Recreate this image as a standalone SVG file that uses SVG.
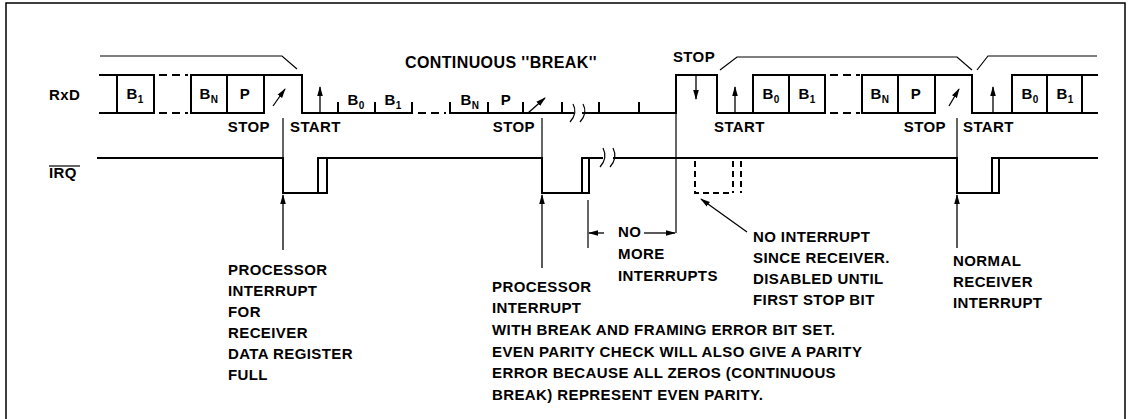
<svg xmlns="http://www.w3.org/2000/svg" width="1128" height="419" viewBox="0 0 1128 419">
<style>
.sig{fill:none;stroke:#000;stroke-width:2;stroke-linejoin:miter;stroke-linecap:square}
.thin{fill:none;stroke:#000;stroke-width:1.2}
.dash{fill:none;stroke:#000;stroke-width:2;stroke-dasharray:8,5}
.arr{fill:none;stroke:#000;stroke-width:1.3;marker-end:url(#ah)}
text{font-family:"Liberation Sans",Arial,Helvetica,sans-serif;font-weight:bold;font-size:15px;letter-spacing:0.4px;fill:#000}
.mid{text-anchor:middle}
.end{text-anchor:end}
.sub{font-size:10px}
</style>
<defs>
<marker id="ah" viewBox="0 0 10 10" refX="9" refY="5" markerWidth="10" markerHeight="10" markerUnits="userSpaceOnUse" orient="auto"><path d="M0,2.2 L10,5 L0,7.8 z" fill="#000"/></marker>
</defs>
<path id="frame" d="M6,419 V3 H1125 V419" fill="none" stroke="#000" stroke-width="1.5"/>

<g id="rxd">
<text x="49" y="100">RxD</text>
<path class="thin" d="M100,56 H282 L297,69 M720,70 L737,57 H957 L972,70 M977,70 L988,56 H1097"/>
<path class="sig" d="M100,75 H154 M100,113 H154 M117,75 V113 M154,75 V113"/>
<path class="dash" d="M159,75 H188 M159,113 H188"/>
<path class="sig" d="M191,75 H302 V113 H412 M191,113 H264 M191,75 V113 M227,75 V113 M264,75 V113"/>
<path class="dash" d="M418,113 H446"/>
<path class="sig" d="M450,113 H573 M583,113 H676 V75 H717 V113 H825 M753,75 H825 M753,75 V113 M789,75 V113 M825,75 V113"/>
<path class="sig" d="M338,113 V103 M375,113 V103 M412,113 V103 M450,113 V103 M488,113 V103 M523,113 V103 M562,113 V103 M599,113 V103 M639,113 V103"/>
<path class="thin" d="M570,122 Q578,113 573,104 M580,122 Q588,113 583,104"/>
<path class="dash" d="M830,75 H860 M830,113 H860"/>
<path class="sig" d="M862,75 H972 V113 H1097 M862,113 H935 M862,75 V113 M898,75 V113 M935,75 V113 M1012,75 H1097 M1012,75 V113 M1047,75 V113 M1082,75 V113"/>
<text class="mid" x="135" y="99">B<tspan class="sub" dy="4">1</tspan></text>
<text class="mid" x="209" y="99">B<tspan class="sub" dy="4">N</tspan></text>
<text class="mid" x="245" y="99">P</text>
<text class="mid" x="356" y="105">B<tspan class="sub" dy="4">0</tspan></text>
<text class="mid" x="393" y="105">B<tspan class="sub" dy="4">1</tspan></text>
<text class="mid" x="470" y="105">B<tspan class="sub" dy="4">N</tspan></text>
<text class="mid" x="506" y="105">P</text>
<text class="mid" x="771" y="99">B<tspan class="sub" dy="4">0</tspan></text>
<text class="mid" x="807" y="99">B<tspan class="sub" dy="4">1</tspan></text>
<text class="mid" x="880" y="99">B<tspan class="sub" dy="4">N</tspan></text>
<text class="mid" x="916" y="99">P</text>
<text class="mid" x="1030" y="99">B<tspan class="sub" dy="4">0</tspan></text>
<text class="mid" x="1065" y="99">B<tspan class="sub" dy="4">1</tspan></text>
<text class="mid" x="501" y="68" style="font-size:16px">CONTINUOUS ''BREAK''</text>
<text class="mid" x="694" y="62">STOP</text>
<text class="end" x="270" y="132">STOP</text>
<text class="end" x="535" y="132">STOP</text>
<text class="end" x="946" y="132">STOP</text>
<text x="290" y="132">START</text>
<text x="714" y="132">START</text>
<text x="963" y="132">START</text>
</g>

<g id="irq">
<text x="49" y="178">IRQ</text>
<path class="thin" d="M49,166 H80"/>
<path class="sig" d="M98,158 H283 V193 H327 V158 M318,158 V193 M318,158 H542 V193 H589 V158 M582,158 V193 M582,158 H602 M614,158 H957 V193 H999 V158 M992,193 V158 H1097"/>
<path class="thin" d="M600,167 Q608,158 603,148 M610,167 Q618,158 613,148"/>
<path class="dash" style="stroke-dasharray:6,4" d="M695,161 V193 H733 M733,161 V193 M741,161 V193"/>
</g>

<g id="connectors">
<path class="thin" d="M283,118 V158 M542,118 V158 M957,118 V158 M676,113 V233 M588,200 V248"/>
<path class="arr" d="M273,106 L285,89"/>
<path class="arr" d="M528,113 L545,98"/>
<path class="arr" d="M949,106 L959,89"/>
<path class="arr" d="M320,113 V87"/>
<path class="arr" d="M735,113 V87"/>
<path class="arr" d="M993,113 V87"/>
<path class="arr" d="M696,75 V99"/>
<path class="arr" d="M283,250 V195"/>
<path class="arr" d="M542,268 V195"/>
<path class="arr" d="M957,248 V195"/>
<path class="arr" d="M604,233 H589"/>
<path class="arr" d="M644,233 H675"/>
<path class="arr" d="M747,232 L701,199"/>
</g>

<g id="note-full">
<text x="228" y="275">PROCESSOR</text>
<text x="228" y="296">INTERRUPT</text>
<text x="228" y="317">FOR</text>
<text x="228" y="338">RECEIVER</text>
<text x="228" y="359">DATA REGISTER</text>
<text x="228" y="380">FULL</text>
</g>
<g id="note-break">
<text x="492" y="292">PROCESSOR</text>
<text x="492" y="313">INTERRUPT</text>
<text x="492" y="335">WITH BREAK AND FRAMING ERROR BIT SET.</text>
<text x="492" y="357">EVEN PARITY CHECK WILL ALSO GIVE A PARITY</text>
<text x="492" y="378">ERROR BECAUSE ALL ZEROS (CONTINUOUS</text>
<text x="492" y="400">BREAK) REPRESENT EVEN PARITY.</text>
</g>
<g id="note-nomore">
<text x="618" y="237">NO</text>
<text x="618" y="259">MORE</text>
<text x="618" y="281">INTERRUPTS</text>
</g>
<g id="note-nointr">
<text x="753" y="242">NO INTERRUPT</text>
<text x="753" y="263">SINCE RECEIVER.</text>
<text x="753" y="284">DISABLED UNTIL</text>
<text x="753" y="305">FIRST STOP BIT</text>
</g>
<g id="note-normal">
<text x="953" y="266">NORMAL</text>
<text x="953" y="287">RECEIVER</text>
<text x="953" y="308">INTERRUPT</text>
</g>
</svg>
